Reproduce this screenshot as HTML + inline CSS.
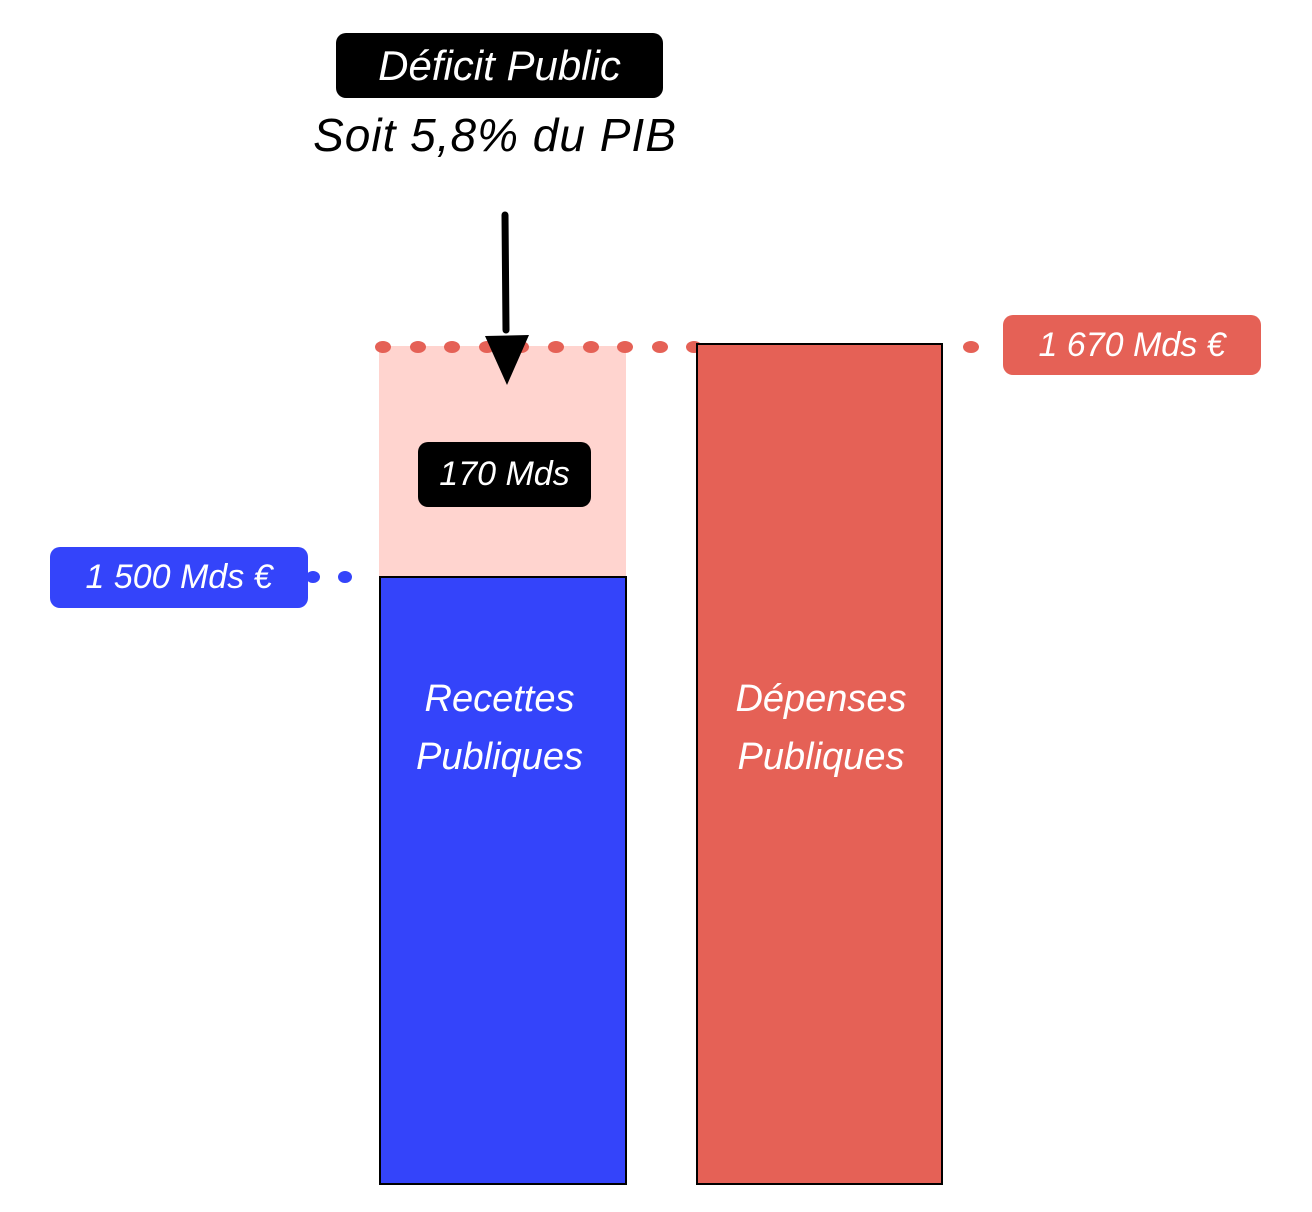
<!DOCTYPE html>
<html><head><meta charset="utf-8"><style>
body{margin:0;width:1312px;height:1212px;background:#fff;position:relative;overflow:hidden;font-family:"Liberation Sans",sans-serif}
.a{position:absolute}
.lbl{position:absolute;border-radius:10px;color:#fff;font-size:34px;display:flex;align-items:center;justify-content:center;font-style:italic}
.dot{position:absolute;width:16px;height:12px;border-radius:50%;background:#e56156}
.bd{position:absolute;width:14px;height:12px;border-radius:50%;background:#3444fa}
</style></head><body>
<div class="lbl" style="left:336px;top:33px;width:327px;height:65px;background:#000;font-size:42px">Déficit Public</div>
<div class="a" style="left:290px;top:108px;width:410px;text-align:center;font-size:46px;font-style:italic;letter-spacing:1px">Soit 5,8% du PIB</div>
<div class="a" style="left:379px;top:346px;width:247px;height:230px;background:#ffd4cf"></div>
<div id="dots"></div>
<div class="a" style="left:379px;top:576px;width:244px;height:605px;background:#3444fa;border:2px solid #000"></div>
<div class="a" style="left:696px;top:343px;width:243px;height:838px;background:#e56156;border:2px solid #000"></div>
<div class="a" style="left:376px;top:670px;width:247px;text-align:center;color:#fff;font-size:38px;line-height:58px;font-style:italic">Recettes<br>Publiques</div>
<div class="a" style="left:696px;top:670px;width:250px;text-align:center;color:#fff;font-size:38px;line-height:58px;font-style:italic">Dépenses<br>Publiques</div>
<div class="lbl" style="left:418px;top:442px;width:173px;height:65px;background:#000">170 Mds</div>
<div class="lbl" style="left:1003px;top:315px;width:258px;height:60px;background:#e56156">1 670 Mds €</div>
<div class="lbl" style="left:50px;top:547px;width:258px;height:61px;background:#3444fa">1 500 Mds €</div>
<div class="bd" style="left:306px;top:571px"></div><div class="bd" style="left:338px;top:571px"></div>
<svg class="a" style="left:0;top:0" width="1312" height="1212">
<line x1="505" y1="215" x2="506" y2="330" stroke="#000" stroke-width="7" stroke-linecap="round"/>
<polygon points="485,336 529,335 507,385" fill="#000"/>
</svg>
<script>
var h='';for(var x=375;x<=980;x+=34.6){if(x>690&&x<945)continue;h+='<div class="dot" style="left:'+x+'px;top:341px"></div>';}
document.getElementById('dots').innerHTML=h;
</script>
</body></html>
